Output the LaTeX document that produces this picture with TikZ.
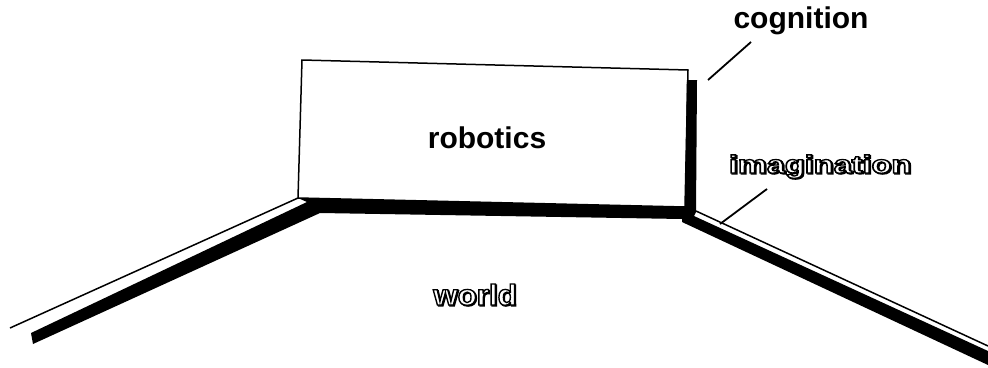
\documentclass[tikz,border=0pt]{standalone}
\usepackage{fontspec}
\setmainfont{Liberation Sans}
\newcommand{\hollow}[1]{%
  \rlap{\kern0.9pt\raisebox{-0.9pt}{\special{pdf:literal direct 2 Tr 1.2 w 0 0 0 RG 0 0 0 rg}#1}}%
  \special{pdf:literal direct 2 Tr 1.3 w 0 0 0 RG 1 1 1 rg}#1\special{pdf:literal direct 0 Tr 0 0 0 rg}}
\begin{document}
\begin{tikzpicture}[x=1pt,y=-1pt,
  lbl/.style={font=\fontsize{30}{36}\selectfont\bfseries, inner sep=0pt, anchor=base},
  olbl/.style={font=\fontsize{#1}{#1}\selectfont\bfseries, inner sep=0pt, anchor=base},
  outline/.style={line width=1.5pt, line join=miter},
  leader/.style={line width=1.8pt}]
\useasboundingbox (0,0) rectangle (988,367);
% box corners
\coordinate (A) at (302,60);
\coordinate (B) at (688,70);
\coordinate (C) at (685,207);
\coordinate (D) at (298,198);
% black shadow band (floor left, bottom bar, right bar, floor right)
\fill[black] (31,333) -- (307,202) -- (D) -- (C) -- (686.8,80) -- (697,80) -- (696,212)
  -- (694,216) -- (988,351) -- (988,365) -- (682,222) -- (682,219) -- (320,213)
  -- (33,344) -- cycle;
% robotics box
\draw[outline] (A) -- (B) -- (C) -- (D) -- cycle;
% thin floor lines
\coordinate (L0) at (10,328);
\coordinate (R0) at (696,211);
\coordinate (R1) at (988,346);
\draw[outline] (L0) -- (D);
\draw[outline] (R0) -- (R1);
% labels
\node[lbl] (robotics) at (487,148) {robotics};
\node[lbl] (cognition) at (801,28) {cognition};
\node[olbl=25, xscale=1.3] (imagination) at (820,173) {\hollow{imagination}};
\node[olbl=29, xscale=1.08] (world) at (475,305) {\hollow{world}};
% leader lines
\coordinate (c0) at (708,80);
\coordinate (c1) at (751,42);
\draw[leader] (c0) -- (c1);
\coordinate (i0) at (720,224);
\coordinate (i1) at (767,189);
\draw[leader] (i0) -- (i1);
\end{tikzpicture}
\end{document}
